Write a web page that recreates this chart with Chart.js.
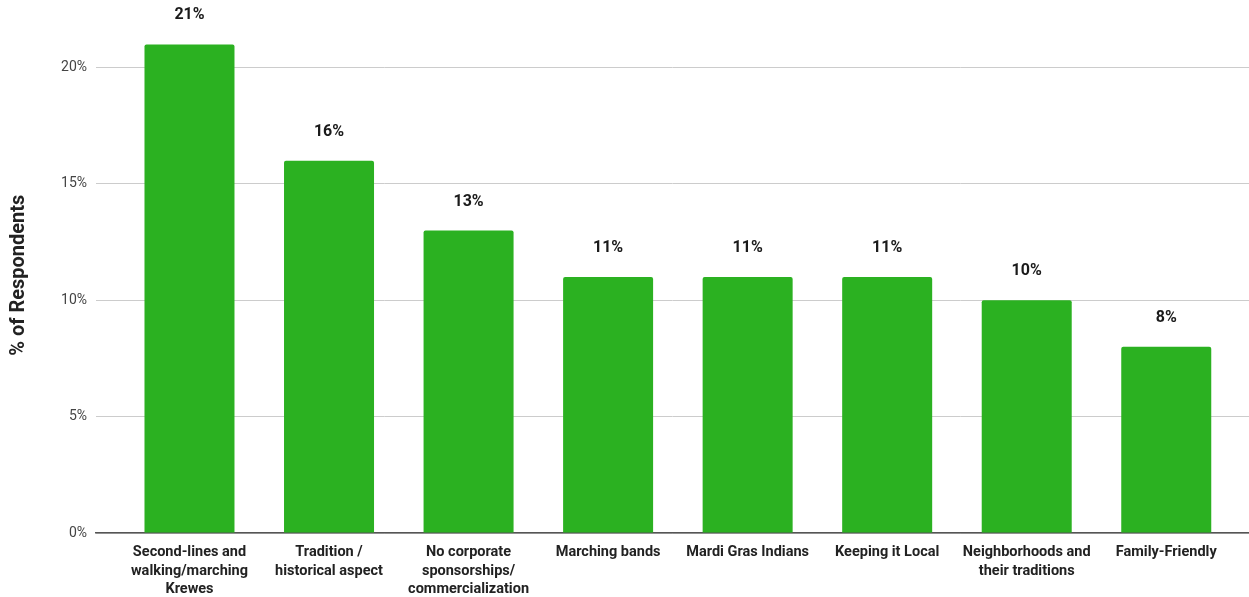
<!DOCTYPE html>
<html>
<head>
<meta charset="utf-8">
<script src="https://cdn.jsdelivr.net/npm/chart.js@4"></script>
<style>
html,body{margin:0;padding:0;background:#fff;}
#wrap{width:1249px;height:597px;position:relative;}
</style>
</head>
<body>
<div id="wrap"><canvas id="c" width="1249" height="597"></canvas></div>
<script>
const categories = [
  ['Second-lines and','walking/marching','Krewes'],
  ['Tradition /','historical aspect'],
  ['No corporate','sponsorships/','commercialization'],
  ['Marching bands'],
  ['Mardi Gras Indians'],
  ['Keeping it Local'],
  ['Neighborhoods and','their traditions'],
  ['Family-Friendly']
];
const values = [21, 16, 13, 11, 11, 11, 10, 8];
const yTicks = [0, 5, 10, 15, 20];
const yTitle = '% of Respondents';

const valueLabels = {
  id: 'valueLabels',
  afterDatasetsDraw(chart) {
    const ctx = chart.ctx;
    const meta = chart.getDatasetMeta(0);
    ctx.save();
    ctx.font = 'bold 16px Roboto';
    ctx.fillStyle = '#1a1a1a';
    ctx.textAlign = 'center';
    ctx.textBaseline = 'middle';
    meta.data.forEach((bar, i) => {
      ctx.fillText(values[i] + '%', bar.x, bar.y - 29);
    });
    ctx.restore();
  }
};

new Chart(document.getElementById('c'), {
  type: 'bar',
  data: {
    datasets: [{
      data: values.map((v, i) => ({x: i, y: v})),
      backgroundColor: '#2BB121',
      borderRadius: 2,
      borderSkipped: 'bottom',
      barPercentage: 0.645,
      categoryPercentage: 1
    }]
  },
  options: {
    responsive: false,
    animation: false,
    layout: {padding: {top: 0, right: 0, bottom: 0, left: 0}},
    plugins: {legend: {display: false}, tooltip: {enabled: false}},
    scales: {
      x: {
        type: 'linear',
        offset: false,
        min: -0.670,
        max: 7.593,
        afterBuildTicks: (s) => { s.ticks = categories.map((_, i) => ({value: i})); },
        afterFit: (s) => { s.height = 64; },
        grid: {display: false, drawTicks: false},
        border: {display: true, color: '#555', width: 1.5},
        ticks: {
          autoSkip: false,
          maxRotation: 0,
          padding: 10,
          color: '#222',
          font: {family: 'Roboto', size: 14.5, weight: 'bold', lineHeight: 1.29},
          callback: (v) => categories[v] || ''
        }
      },
      y: {
        min: 0,
        max: 22.16,
        afterBuildTicks: (s) => { s.ticks = yTicks.map(v => ({value: v})); },
        afterFit: (s) => { s.width = 96; },
        grid: {color: '#cccccc', drawTicks: false},
        border: {display: false},
        ticks: {
          padding: 9,
          color: '#444',
          font: {family: 'Roboto', size: 14},
          callback: (v) => v + '%'
        },
        title: {
          display: true,
          text: yTitle,
          color: '#222',
          font: {family: 'Roboto', size: 20, weight: 'bold'},
          padding: {top: 7, bottom: 0}
        }
      }
    }
  },
  plugins: [valueLabels]
});
</script>
</body>
</html>
